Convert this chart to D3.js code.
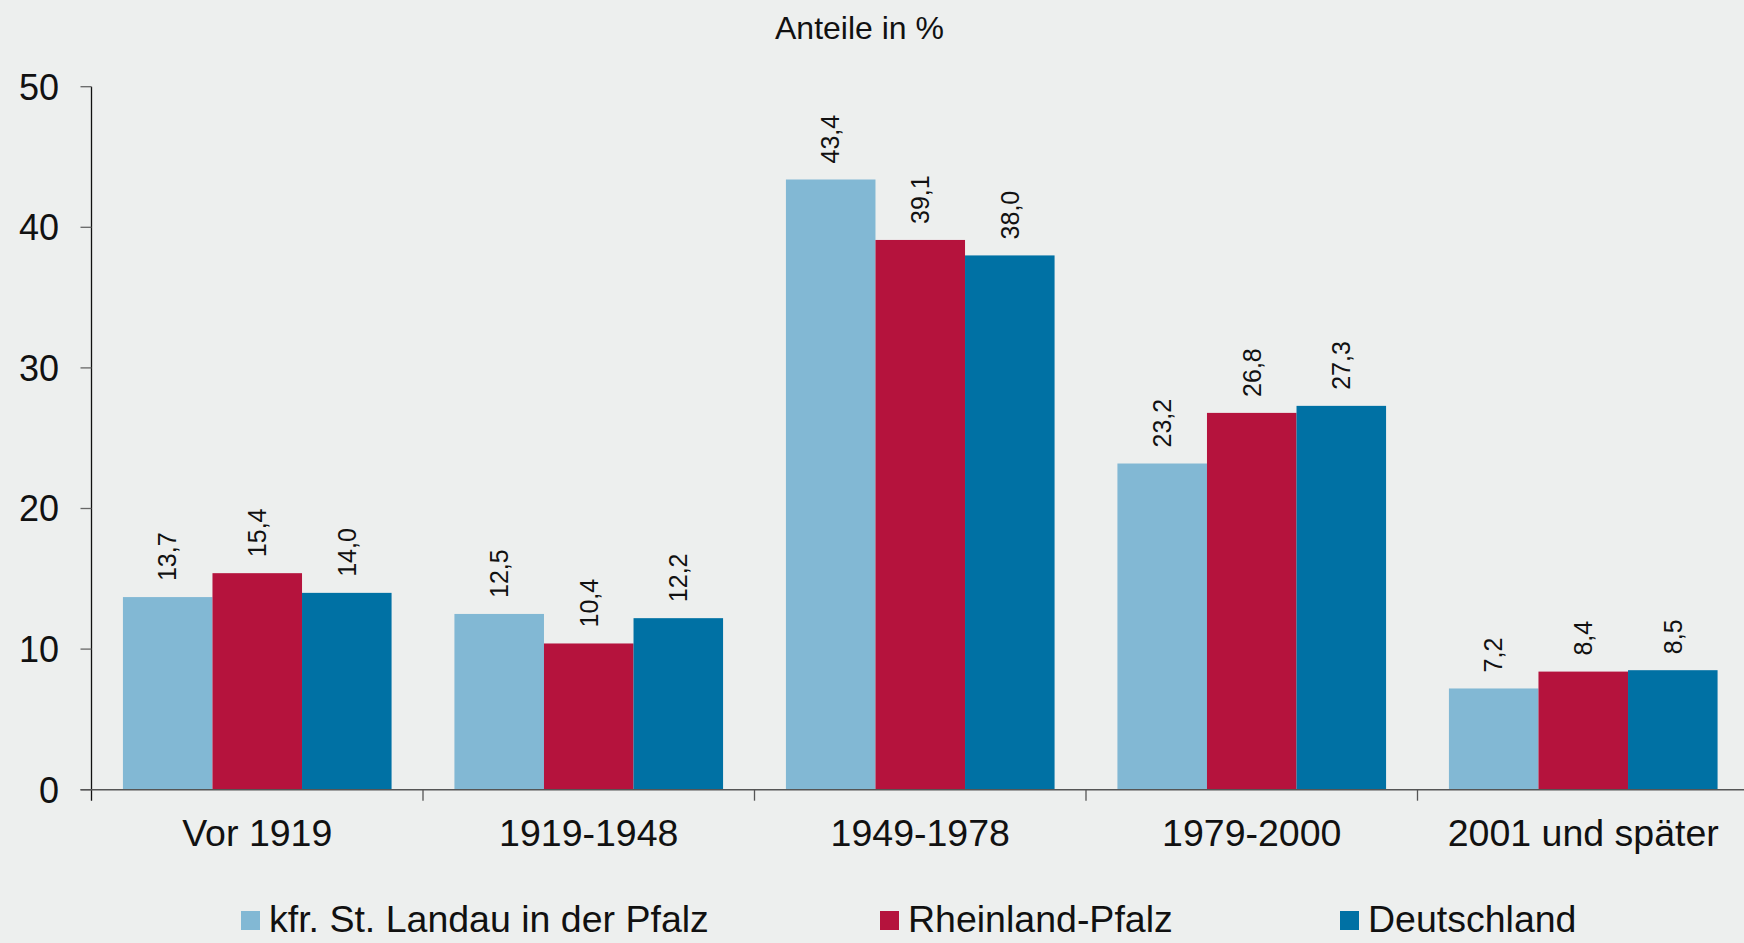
<!DOCTYPE html>
<html>
<head>
<meta charset="utf-8">
<script src="https://cdn.jsdelivr.net/npm/d3@7"></script>
<style>
  html, body { margin: 0; padding: 0; background: #EDEFEE; }
  svg { display: block; font-family: "Liberation Sans", Arial, sans-serif; }
</style>
</head>
<body>
<svg id="chart" width="1744" height="943"></svg>
<script>
const categories = ["Vor 1919", "1919-1948", "1949-1978", "1979-2000", "2001 und später"];
const seriesNames = ["kfr. St. Landau in der Pfalz", "Rheinland-Pfalz", "Deutschland"];
const landau = [13.7, 12.5, 43.4, 23.2, 7.2];
const rlp = [15.4, 10.4, 39.1, 26.8, 8.4];
const deutschland = [14.0, 12.2, 38.0, 27.3, 8.5];
const yTicks = [0, 10, 20, 30, 40, 50];
const colors = ["#82B8D4", "#B5133D", "#0071A4"];
const title = "Anteile in %";

const seriesValues = [landau, rlp, deutschland];

(function () {
const svg = d3.select("#chart");
const W = 1744, H = 943;
svg.append("rect").attr("width", W).attr("height", H).attr("fill", "#EDEFEE");

const pLeft = 91.5, pRight = 1749, pTop = 86.7, pBottom = 789.7;

const x0 = d3.scaleBand().domain(categories).range([pLeft, pRight]).paddingInner(0).paddingOuter(0);
const x1 = d3.scaleBand().domain(seriesNames).range([0, x0.bandwidth()]).paddingInner(0).paddingOuter(0.351);
const y = d3.scaleLinear().domain([0, 50]).range([pBottom, pTop]);

const fmt = v => v.toFixed(1).replace(".", ",");

// bars
categories.forEach((c, ci) => {
  const g = svg.append("g").attr("transform", `translate(${x0(c)},0)`);
  seriesNames.forEach((s, si) => {
    const v = seriesValues[si][ci];
    g.append("rect")
      .attr("x", x1(s))
      .attr("y", y(v))
      .attr("width", x1.bandwidth())
      .attr("height", y(0) - y(v))
      .attr("fill", colors[si]);
    const cx = x1(s) + x1.bandwidth() / 2;
    g.append("text")
      .attr("transform", `translate(${cx},${y(v) - 16}) rotate(-90)`)
      .attr("text-anchor", "start")
      .attr("dy", "0.35em")
      .attr("font-size", 25)
      .attr("fill", "#111")
      .text(fmt(v));
  });
});

// y axis
const yAxis = svg.append("g");
yAxis.append("line").attr("x1", pLeft).attr("x2", pLeft).attr("y1", pTop).attr("y2", pBottom + 11)
  .attr("stroke", "#111").attr("stroke-width", 1.3);
yTicks.forEach(t => {
  yAxis.append("line").attr("x1", pLeft - 11).attr("x2", pLeft).attr("y1", y(t)).attr("y2", y(t))
    .attr("stroke", "#666").attr("stroke-width", 1.3);
  yAxis.append("text").attr("x", 59).attr("y", y(t)).attr("dy", "0.36em")
    .attr("text-anchor", "end").attr("font-size", 36).attr("fill", "#111").text(t);
});

// x axis
const xAxis = svg.append("g");
xAxis.append("line").attr("x1", pLeft - 11).attr("x2", W).attr("y1", pBottom).attr("y2", pBottom)
  .attr("stroke", "#555").attr("stroke-width", 1.5);
categories.forEach((c, ci) => {
  if (ci > 0) {
    xAxis.append("line").attr("x1", x0(c)).attr("x2", x0(c)).attr("y1", pBottom).attr("y2", pBottom + 11)
      .attr("stroke", "#555").attr("stroke-width", 1.3);
  }
  xAxis.append("text").attr("x", x0(c) + x0.bandwidth() / 2).attr("y", 846)
    .attr("text-anchor", "middle").attr("font-size", 37.5).attr("fill", "#111").text(c);
});

// title
svg.append("text").attr("x", 859.5).attr("y", 39).attr("text-anchor", "middle")
  .attr("font-size", 32).attr("fill", "#111").text(title);

// legend
const legendX = [241, 880, 1340];
seriesNames.forEach((s, i) => {
  svg.append("rect").attr("x", legendX[i]).attr("y", 911).attr("width", 19).attr("height", 19)
    .attr("fill", colors[i]);
  svg.append("text").attr("x", legendX[i] + 28).attr("y", 932).attr("font-size", 37.5)
    .attr("fill", "#111").text(s);
});
})();
</script>
</body>
</html>
